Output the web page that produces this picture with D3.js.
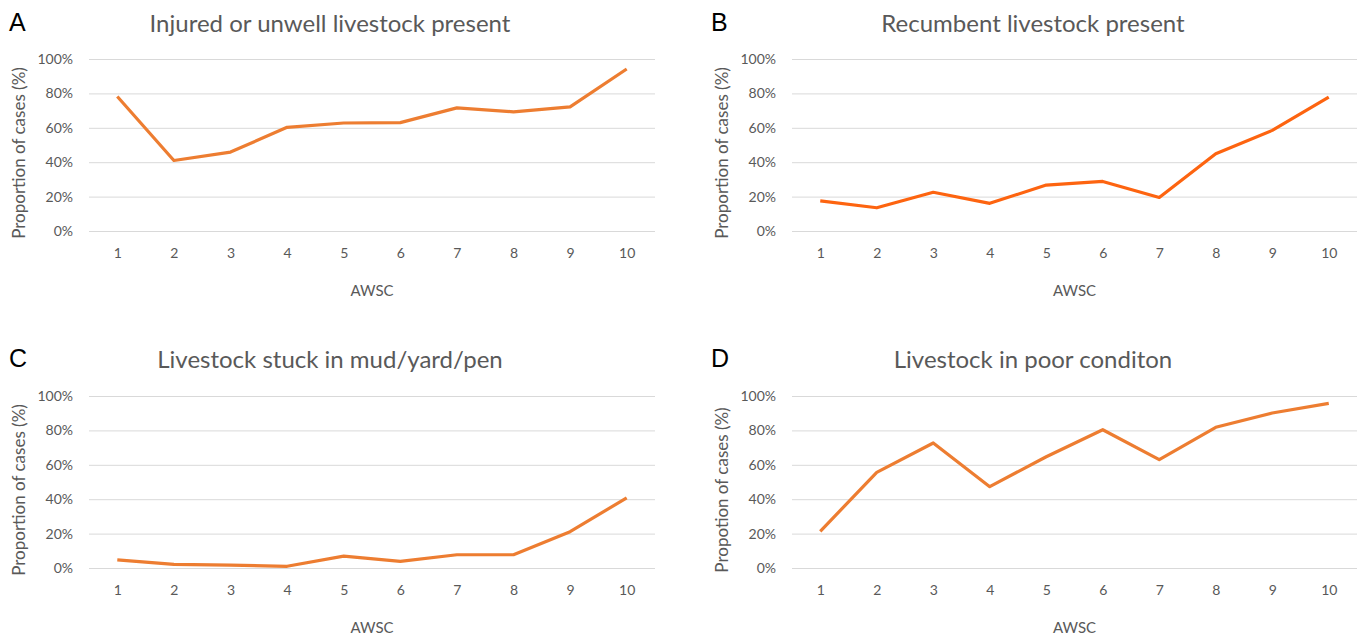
<!DOCTYPE html>
<html>
<head>
<meta charset="utf-8">
<script src="https://cdn.jsdelivr.net/npm/d3@7"></script>
<style>
  html, body { margin: 0; padding: 0; background: #fff; }
  svg { display: block; }
  text { font-family: Lato, "Open Sans", sans-serif; }
</style>
</head>
<body>
<svg id="chart" width="1367" height="635"></svg>
<script>
// ---- Data ----
const categories = ["1", "2", "3", "4", "5", "6", "7", "8", "9", "10"];
const yTicks = [0, 0.2, 0.4, 0.6, 0.8, 1.0];

const injuredValues    = [0.782, 0.41, 0.459, 0.603, 0.628, 0.63, 0.716, 0.693, 0.722, 0.942];
const recumbentValues  = [0.175, 0.135, 0.225, 0.161, 0.267, 0.288, 0.195, 0.449, 0.585, 0.778];
const stuckValues      = [0.047, 0.021, 0.017, 0.010, 0.069, 0.039, 0.077, 0.077, 0.211, 0.408];
const poorValues       = [0.213, 0.556, 0.727, 0.473, 0.647, 0.804, 0.630, 0.818, 0.901, 0.957];

const panelLetters = ["A", "B", "C", "D"];
const panelTitles = [
  "Injured or unwell livestock present",
  "Recumbent livestock present",
  "Livestock stuck in mud/yard/pen",
  "Livestock in poor conditon"
];
const yLabels = [
  "Proportion of cases (%)",
  "Proportion of cases (%)",
  "Proportion of cases (%)",
  "Propotion of cases (%)"
];
const xLabel = "AWSC";
const seriesList = [injuredValues, recumbentValues, stuckValues, poorValues];
const lineColors = ["#ED7D31", "#FD6410", "#ED7D31", "#ED7D31"];

// ---- Layout ----
const panels = [
  { left: 89,  right: 655,  top: 59,  bottom: 231, titleX: 330,  titleY: 32,  letterX: 9,   letterY: 31 },
  { left: 792, right: 1357, top: 59,  bottom: 231, titleX: 1033, titleY: 32,  letterX: 711, letterY: 31 },
  { left: 89,  right: 655,  top: 396, bottom: 568, titleX: 330,  titleY: 368, letterX: 9,   letterY: 367 },
  { left: 792, right: 1357, top: 396, bottom: 568, titleX: 1033, titleY: 368, letterX: 711, letterY: 367 }
];

const svg = d3.select("#chart");
const textColor = "#595959";
const fmt = d3.format(".0%");

panels.forEach((p, i) => {
  const g = svg.append("g");
  const x = d3.scalePoint().domain(categories).range([p.left, p.right]).padding(0.5);
  const y = d3.scaleLinear().domain([0, 1]).range([p.bottom, p.top]);

  // gridlines + y tick labels
  const yAxis = d3.axisLeft(y).tickValues(yTicks).tickFormat(fmt)
    .tickSize(-(p.right - p.left)).tickPadding(16);
  const ya = g.append("g").attr("transform", `translate(${p.left},0)`).call(yAxis);
  ya.select(".domain").remove();
  ya.selectAll(".tick line").attr("stroke", "#D9D9D9").attr("stroke-width", 1);
  ya.selectAll(".tick text").attr("fill", textColor).style("font-size", "14px")
    .style("font-family", "Lato, 'Open Sans', sans-serif");

  // x tick labels
  const xAxis = d3.axisBottom(x).tickSize(0).tickPadding(17);
  const xa = g.append("g").attr("transform", `translate(0,${p.bottom})`).call(xAxis);
  xa.select(".domain").remove();
  xa.selectAll(".tick text").attr("fill", textColor).style("font-size", "14px")
    .style("font-family", "Lato, 'Open Sans', sans-serif");

  // line
  const line = d3.line().x((d, j) => x(categories[j])).y(d => y(d));
  g.append("path").datum(seriesList[i])
    .attr("d", line).attr("fill", "none")
    .attr("stroke", lineColors[i]).attr("stroke-width", 3.2)
    .attr("stroke-linejoin", "round").attr("stroke-linecap", "butt");

  // titles
  g.append("text").attr("x", p.titleX).attr("y", p.titleY)
    .attr("text-anchor", "middle").attr("fill", textColor)
    .style("font-size", "24px").text(panelTitles[i]);

  g.append("text").attr("x", p.letterX).attr("y", p.letterY)
    .attr("fill", "#000").style("font-size", "25px")
    .style("font-family", "'Liberation Sans', Arial, sans-serif").text(panelLetters[i]);

  // axis labels
  g.append("text").attr("x", (p.left + p.right) / 2).attr("y", p.bottom + 65)
    .attr("text-anchor", "middle").attr("fill", textColor)
    .style("font-size", "15px").text(xLabel);

  g.append("text")
    .attr("transform", `translate(${p.left - 64},${(p.top + p.bottom) / 2 + 8}) rotate(-90)`)
    .attr("text-anchor", "middle").attr("fill", textColor)
    .style("font-size", "17px").text(yLabels[i]);
});
</script>
</body>
</html>
